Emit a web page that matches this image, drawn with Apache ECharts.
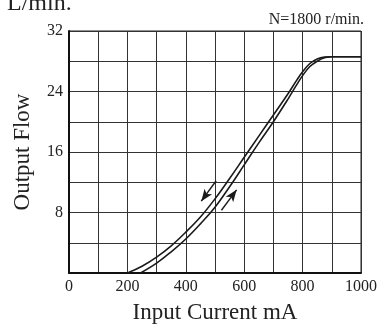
<!DOCTYPE html>
<html>
<head>
<meta charset="utf-8">
<script src="https://cdn.jsdelivr.net/npm/echarts@6/dist/echarts.min.js"></script>
<style>
html,body{margin:0;padding:0;background:#fff;}
#main{width:380px;height:329px;}
</style>
</head>
<body>
<div id="main"></div>
<script>
// 電流上昇側 (右側の線)
var upCurrent = [245, 300, 350, 400, 450, 500, 550, 600, 650, 700, 750, 780, 800, 825, 850, 875, 900, 1000];
var upFlow    = [0, 1.3, 2.8, 4.5, 6.5, 8.7, 11.4, 14.3, 17.2, 20.0, 23.0, 24.9, 26.1, 27.3, 28.0, 28.45, 28.6, 28.6];
// 電流下降側 (左側の線)
var downCurrent = [200, 250, 300, 350, 400, 450, 500, 550, 600, 650, 700, 750, 780, 800, 825, 850, 875, 900, 1000];
var downFlow    = [0, 0.9, 2.1, 3.6, 5.4, 7.4, 9.8, 12.5, 15.3, 18.1, 20.9, 23.7, 25.5, 26.6, 27.7, 28.3, 28.55, 28.6, 28.6];
// 矢印 [始点, 終点]
var arrowDown = [[504, 12.2], [453, 9.5]];
var arrowUp   = [[522, 8.3], [574, 11.0]];
var xLabels = [0, 200, 400, 600, 800, 1000];
var yLabels = [8, 16, 24, 32];

function pairs(xs, ys){
	var out = [];
	for (var i = 0; i < xs.length; i++) out.push([xs[i], ys[i]]);
	return out;
}

var font = 'Liberation Serif';
var chart = echarts.init(document.getElementById('main'));
var option = {
	animation: false,
	textStyle: { fontFamily: font },
	grid: { left: 69, right: 14, top: 31, bottom: 53, show: true, borderColor: '#222', borderWidth: 1 },
	graphic: [
		{ type: 'text', left: 7, top: -8, style: { text: 'L/min.', font: '24px "Liberation Serif"', fill: '#222' } },
		{ type: 'text', right: 16, top: 12, style: { text: 'N=1800 r/min.', font: '16px "Liberation Serif"', fill: '#222' } }
	],
	xAxis: {
		type: 'value', min: 0, max: 1000, interval: 100,
		name: 'Input Current mA', nameLocation: 'middle', nameGap: 28,
		nameTextStyle: { fontSize: 23, color: '#222', fontFamily: font },
		axisLine: { lineStyle: { color: '#111', width: 2 } },
		axisTick: { show: false },
		axisLabel: {
			fontSize: 16, color: '#222', margin: 6, fontFamily: font,
			formatter: function(v){ return xLabels.indexOf(v) >= 0 ? String(v) : ''; }
		},
		splitLine: { lineStyle: { color: '#333', width: 1 } }
	},
	yAxis: {
		type: 'value', min: 0, max: 32, interval: 4,
		name: 'Output Flow', nameLocation: 'middle', nameGap: 35,
		nameTextStyle: { fontSize: 23, color: '#222', fontFamily: font },
		axisLine: { show: true, lineStyle: { color: '#111', width: 2 } },
		axisTick: { show: false },
		axisLabel: {
			fontSize: 16, color: '#222', margin: 6, fontFamily: font,
			formatter: function(v){ return yLabels.indexOf(v) >= 0 ? String(v) : ''; }
		},
		splitLine: { lineStyle: { color: '#333', width: 1 } }
	},
	series: [
		{
			type: 'line', data: pairs(downCurrent, downFlow), smooth: 0.4,
			showSymbol: false, lineStyle: { color: '#1a1a1a', width: 1.6 },
			markLine: {
				silent: true, symbol: ['none', 'arrow'], symbolSize: [7, 12],
				label: { show: false },
				lineStyle: { color: '#1a1a1a', width: 1.4, type: 'solid' },
				data: [
					[{ coord: arrowDown[0] }, { coord: arrowDown[1] }],
					[{ coord: arrowUp[0] }, { coord: arrowUp[1] }]
				]
			}
		},
		{
			type: 'line', data: pairs(upCurrent, upFlow), smooth: 0.4,
			showSymbol: false, lineStyle: { color: '#1a1a1a', width: 1.6 }
		}
	]
};
chart.setOption(option);
</script>
</body>
</html>
